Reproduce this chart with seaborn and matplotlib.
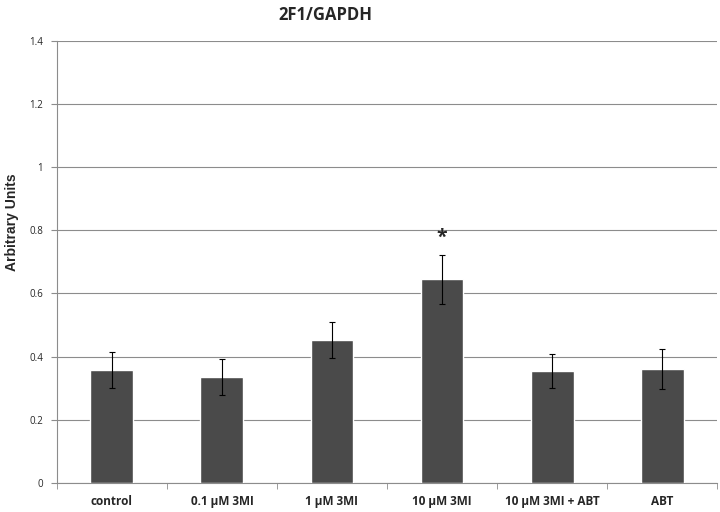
import numpy as np
import pandas as pd
import matplotlib
matplotlib.use("Agg")
import matplotlib.pyplot as plt
import seaborn as sns

groups = ["control", "0.1 \u00b5M 3MI", "1 \u00b5M 3MI", "10 \u00b5M 3MI", "10 \u00b5M 3MI + ABT", "ABT"]
means = [0.356, 0.335, 0.452, 0.645, 0.354, 0.361]
errors = [0.057, 0.057, 0.058, 0.078, 0.054, 0.064]
y_ticks = [0, 0.2, 0.4, 0.6, 0.8, 1, 1.2, 1.4]
y_tick_labels = ["0", "0.2", "0.4", "0.6", "0.8", "1", "1.2", "1.4"]

sns.set_style("white")
plt.rcParams['font.family'] = ['Open Sans', 'DejaVu Sans']

df = pd.DataFrame({"group": groups, "value": means, "err": errors})

fig = plt.figure(figsize=(7.2, 5.12), dpi=100)
ax = fig.add_axes([0.079, 0.057, 0.917, 0.863])

sns.barplot(data=df, x="group", y="value", color="#4a4a4a", width=0.39,
            saturation=1, ax=ax, zorder=3)
ax.errorbar(np.arange(len(groups)), df["value"], yerr=df["err"], fmt="none",
            ecolor="black", elinewidth=0.8, capsize=2.5, capthick=0.8, zorder=4)

# significance marker
ax.text(3, df["value"][3] + df["err"][3] + 0.02, "*", ha="center", va="bottom",
        fontsize=14, fontweight="bold")

ax.set_xlim(-0.5, len(groups) - 0.5)
ax.set_ylim(0, 1.4)
ax.set_yticks(y_ticks)
ax.set_yticklabels(y_tick_labels, fontsize=7)
ax.yaxis.grid(True, color="#8c8c8c", linewidth=0.8, zorder=0)
ax.set_axisbelow(True)

ax.set_xticks(np.arange(len(groups)))
ax.set_xticklabels(groups, fontsize=8.5, fontweight="bold")
ax.tick_params(axis="x", length=0, pad=9)
ax.set_xticks(np.arange(len(groups) + 1) - 0.5, minor=True)
ax.tick_params(axis="x", which="minor", length=4, color="#8c8c8c", direction="out", bottom=True)
ax.tick_params(axis="y", length=4, color="#8c8c8c", direction="out", left=True, pad=6)

for side in ["top", "right"]:
    ax.spines[side].set_visible(False)
for side in ["left", "bottom"]:
    ax.spines[side].set_color("#8c8c8c")
    ax.spines[side].set_linewidth(0.8)

ax.set_xlabel("")
ax.set_ylabel("Arbitrary Units", fontsize=10, fontweight="bold",
              family=["Liberation Sans", "DejaVu Sans"])
ax.yaxis.set_label_coords(-0.058, 0.59)
fig.text(0.452, 0.97, "2F1/GAPDH", ha="center", va="center", fontsize=12, fontweight="bold")

fig.savefig("out.png", dpi=100)
